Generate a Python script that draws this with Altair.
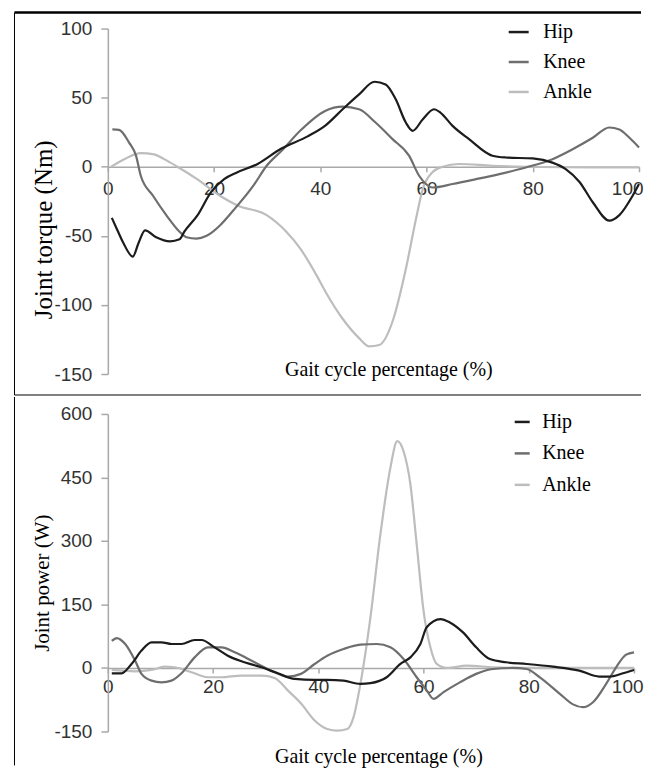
import altair as alt
import pandas as pd

JOINTS = ["Hip", "Knee", "Ankle"]
COLORS = ["#1c1c1c", "#6e6e6e", "#bdbdbd"]

# ---- Joint torque (Nm) ----
HIP_T_X = [0.75, 1.8, 2.9, 4.7, 5.8, 7.0, 9.1, 11.7, 13.5, 14.4, 16.9, 19.4, 21.9, 24.4, 28.2, 32.6, 37.6, 41.0,
           44.2, 47.3, 50.2, 52.3, 54.2, 56.1, 57.4, 59.3, 61.4, 62.6, 64.9, 68.0, 72.4, 74.9, 80.0, 83.7, 86.2,
           88.8, 91.3, 94.4, 96.3, 98.8, 100]
HIP_T_Y = [-37, -46, -55, -65, -55, -46, -51, -54, -52.5, -47, -35, -18.5, -9, -4, 2, 13, 22, 30,
           41.6, 52.4, 61.5, 59.6, 48.8, 32, 26, 34.4, 41.6, 39.2, 29.6, 20, 8, 6.7, 6, 3, -1.7,
           -11, -25.7, -39, -35, -21, -12.5]

KNEE_T_X = [0.85, 2.1, 4.0, 5.3, 6.2, 8.5, 11.0, 13.5, 14.8, 16.7, 18.6, 21.1, 23.6, 27.4, 29.9, 33.0, 36.2, 40.9,
            44.2, 47.3, 50.4, 53.6, 56.7, 58.6, 59.9, 61.1, 64.9, 69.3, 73.7, 78.7, 83.7, 87.5, 91.3, 94.4, 96.3,
            98.2, 100]
KNEE_T_Y = [27, 26.7, 17.5, 8, -6.5, -21, -35, -47, -51, -52, -50, -42.5, -31.7, -13.7, 0.7, 12.7, 26, 40.4,
            43.5, 41.6, 32, 20, 8, -6.5, -12.5, -15, -12.5, -9, -5.3, -0.5, 5.5, 12.7, 21, 28.4, 27,
            21, 14]

ANKLE_T_X = [0.6, 3.1, 6.2, 8.7, 10.6, 13.1, 16.8, 21.1, 24.4, 29.9, 33.6, 36.2, 39.3, 41.0, 44.2, 47.3, 49.2,
             51.1, 53.6, 56.1, 58.0, 59.3, 61.1, 63.0, 66.1, 72.4, 78.7, 91.3, 100]
ANKLE_T_Y = [0, 5.5, 9.9, 9, 5.5, 0, -9, -21, -28, -35, -47, -59, -78.6, -90.6, -110, -124, -130,
             -129, -112, -74, -38, -16, -4, 0, 2, 0.7, 0, -0.5, -0.5]

# ---- Joint power (W) ----
HIP_P_X = [0.75, 2.6, 4.5, 6.4, 8.3, 10.2, 12.1, 14.0, 16.5, 17.8, 20.3, 22.8, 25.4, 29.2, 32.3, 35.5, 39.3,
           41.7, 44.8, 48.0, 49.9, 53.0, 55.6, 57.5, 59.4, 60.6, 63.2, 65.0, 67.5, 70.0, 72.6, 75.7, 79.6,
           84.6, 89.6, 93.4, 95.3, 97.9, 100]
HIP_P_Y = [-12.6, -12.6, 9.4, 41, 60.5, 60.5, 56.6, 56.6, 66, 66, 48.7, 29, 15.7, 1.6, -12.6, -26, -28,
           -28, -30, -37.7, -36, -22, 9.4, 25, 56.6, 96, 115.5, 107.6, 84, 48.7, 21, 13.4, 9.4,
           3, -6.3, -20.4, -20.4, -12.6, -4.7]

KNEE_P_X = [0.75, 1.7, 3.3, 5.2, 6.4, 8.3, 10.2, 12.1, 14.0, 16.5, 19.0, 21.6, 24.1, 27.9, 31.7, 34.2, 36.7,
            39.3, 41.7, 44.8, 48.0, 51.1, 53.7, 56.2, 58.7, 60.6, 61.9, 63.8, 66.9, 70.0, 73.2, 77.0, 79.6,
            82.1, 85.9, 88.4, 90.3, 92.2, 94.7, 96.6, 98.5, 100]
KNEE_P_Y = [64, 70.7, 56.6, 17, -14, -30, -34, -30, -12.6, 25, 48.7, 48.7, 37, 13.4, -10, -20.4, -14,
            9.4, 29, 44.8, 55, 56.6, 48.7, 21, -22, -53, -73, -57, -34, -14, -2.4, 0, -2.4,
            -22, -61, -86, -92.7, -81, -37.7, 1.6, 31.4, 37]

ANKLE_P_X = [0.75, 5.2, 8.3, 10.8, 12.7, 15.9, 19.0, 21.6, 25.4, 29.2, 31.7, 34.2, 36.8, 39.3, 41.7, 43.6,
             45.5, 46.7, 48.0, 49.9, 51.8, 53.7, 55.0, 56.2, 57.5, 58.7, 60.0, 61.3, 62.5, 64.4, 68.2, 73.2,
             79.6, 92.2, 100]
ANKLE_P_Y = [-4.7, -7.9, -4.7, 3, 1.6, -10, -22, -22, -18, -18, -23.6, -53, -85, -124, -144, -148,
             -144, -116, -37.7, 119, 316, 473, 536, 512, 434, 292, 135, 48.7, 9.4, 0, 5.5, 1.6,
             0, 0, 0]

TORQUE_TICKS = [-150, -100, -50, 0, 50, 100]
POWER_TICKS = [-150, 0, 150, 300, 450, 600]
X_TICKS = [0, 20, 40, 60, 80, 100]


def frame(xs, ys, joint):
    return pd.DataFrame({"x": xs, "y": ys, "joint": joint})


torque = pd.concat([
    frame(ANKLE_T_X, ANKLE_T_Y, "Ankle"),
    frame(KNEE_T_X, KNEE_T_Y, "Knee"),
    frame(HIP_T_X, HIP_T_Y, "Hip"),
])
power = pd.concat([
    frame(ANKLE_P_X, ANKLE_P_Y, "Ankle"),
    frame(KNEE_P_X, KNEE_P_Y, "Knee"),
    frame(HIP_P_X, HIP_P_Y, "Hip"),
])

SANS = "Liberation Sans"
SERIF = "Liberation Serif"
AXIS_GREY = "#a9a9a9"
LABEL_GREY = "#333333"
HYPHEN = "replace(datum.label, '\u2212', '-')"


def panel(df, ydom, yticks, width, height, ytitle, ytitle_size, ytitle_x, ytitle_y,
          xtitle_x, xtitle_y, x_label_pad, last_off, legend_x, legend_y, sym_size, label_off, row_pad,
          border_top, border_bottom, top_line, sep_line):
    y0 = height * ydom[1] / (ydom[1] - ydom[0])
    xaxis = alt.Axis(values=X_TICKS, title="Gait cycle percentage (%)", offset=-(height - y0),
                     domainColor=AXIS_GREY, domainWidth=1.5, tickColor=AXIS_GREY, tickWidth=1.5,
                     tickSize=5, labelFont=SANS, labelFontSize=19, labelColor=LABEL_GREY,
                     labelPadding=x_label_pad, labelFlush=False, grid=False,
                     labelAlign={"condition": {"test": "datum.value == 100", "value": "right"}, "value": "center"},
                     labelOffset={"condition": {"test": "datum.value == 100", "value": last_off}, "value": 0},
                     titleFont=SERIF, titleFontSize=20, titleFontWeight="normal", titleColor="#000000",
                     titleX=xtitle_x, titleY=xtitle_y, titleAlign="center", titleBaseline="middle")
    yaxis = alt.Axis(values=yticks, title=ytitle, domainColor=AXIS_GREY, domainWidth=1.5,
                     tickColor=AXIS_GREY, tickWidth=1.5, tickSize=7, labelFont=SANS, labelFontSize=19,
                     labelColor=LABEL_GREY, labelPadding=9, grid=False, labelExpr=HYPHEN,
                     titleFont=SERIF, titleFontSize=ytitle_size, titleFontWeight="normal",
                     titleColor="#000000", titleAngle=270, titleX=ytitle_x, titleY=ytitle_y,
                     titleAlign="center", titleBaseline="middle")
    color = alt.Color("joint:N", scale=alt.Scale(domain=JOINTS, range=COLORS),
                      legend=alt.Legend(title=None, orient="none", legendX=legend_x, legendY=legend_y,
                                        symbolType="stroke", symbolSize=sym_size, symbolStrokeWidth=2.5,
                                        labelFont=SERIF, labelFontSize=20, labelColor="#000000",
                                        labelOffset=label_off, rowPadding=row_pad, padding=0))
    layers = []
    for j in ["Ankle", "Knee", "Hip"]:
        layers.append(
            alt.Chart(df).transform_filter(alt.datum.joint == j)
            .mark_line(strokeWidth=2.2, interpolate="monotone")
            .encode(x=alt.X("x:Q", scale=alt.Scale(domain=[0, 100], nice=False), axis=xaxis),
                    y=alt.Y("y:Q", scale=alt.Scale(domain=ydom, nice=False, zero=False), axis=yaxis),
                    color=color)
        )
    one = alt.Chart(pd.DataFrame({"k": [0]}))
    layers.append(one.mark_rule(color="#000000", strokeWidth=1).encode(
        x=alt.value(-93.5), y=alt.value(border_top), y2=alt.value(border_bottom)))
    if top_line is not None:
        layers.append(one.mark_rule(color="#000000", strokeWidth=2.5).encode(
            x=alt.value(-93.5), x2=alt.value(534), y=alt.value(top_line)))
    if sep_line is not None:
        layers.append(one.mark_rule(color="#000000", strokeWidth=1).encode(
            x=alt.value(-93.5), x2=alt.value(534), y=alt.value(sep_line)))
    return alt.layer(*layers).properties(width=width, height=height)


top = panel(torque, [-150, 100], TORQUE_TICKS, 532, 346, "Joint torque (Nm)", 25, -64.5, 201,
            281, 203, 8, 4, 400, -8, 400, 13, 8, -16, 367, -16, 367)
bottom = panel(power, [-150, 600], POWER_TICKS, 527, 318, "Joint power (W)", 21, -65, 169,
               271, 89, 5, 9, 405, -2, 225, 10, 11.5, -17, 352, None, None)

chart = alt.vconcat(top, bottom, spacing=0).resolve_scale(
    x="independent", y="independent", color="independent"
).properties(
    padding={"left": 5, "top": 2, "right": 0, "bottom": 0}
).configure(background="#ffffff", view=alt.ViewConfig(stroke=None))

chart.save("out.html", embed_options={"renderer": "svg", "actions": False})
